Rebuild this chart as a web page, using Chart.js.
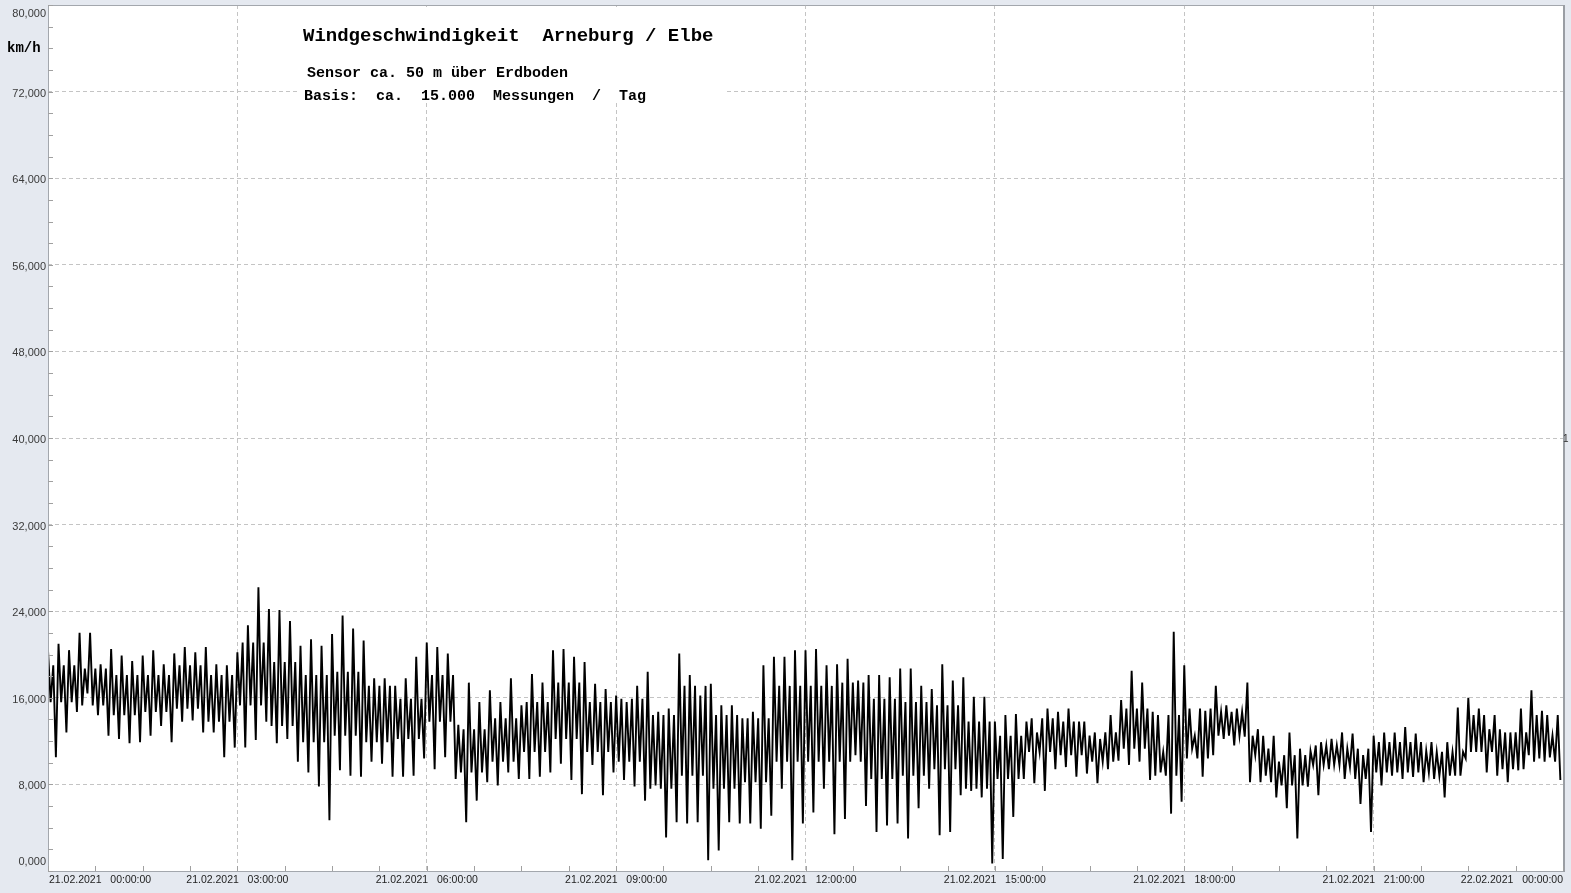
<!DOCTYPE html>
<html><head><meta charset="utf-8">
<script src="https://cdn.jsdelivr.net/npm/chart.js@4.4.1/dist/chart.umd.min.js"></script>
<style>html,body{margin:0;padding:0;background:#e5e9f0;overflow:hidden}</style>
</head><body>
<canvas id="c" width="1571" height="893" style="display:block;width:1571px;height:893px"></canvas>
<script>
// ---- data (km/h), 10-minute bins starting 21.02.2021 00:00, max and min ----
const binMinutes = 10;
const hiKmh = [
 20.4,21.0,20.4,22.0,22.0,19.1,20.5,19.9,19.4,19.9,20.4,19.1,20.1,20.7,20.2,20.7,19.1,19.0,
 20.2,22.7,26.2,24.2,24.1,23.1,20.8,21.4,20.8,21.9,23.6,22.4,21.3,17.8,17.8,17.1,17.8,19.8,
 21.1,20.7,20.1,13.5,17.4,15.6,16.7,15.6,17.8,15.3,18.2,17.4,20.4,20.5,19.8,19.3,17.3,16.8,
 16.2,15.6,17.1,18.4,14.7,15.0,20.1,18.1,16.2,17.3,15.3,15.3,14.1,14.7,19.0,19.8,19.8,20.4,
 20.4,20.5,19.0,19.1,19.6,17.6,18.1,18.1,17.9,18.7,18.7,17.1,16.8,19.1,17.6,17.9,16.1,16.1,
 13.8,14.4,14.5,13.8,12.8,15.0,14.7,15.0,13.8,12.5,12.2,14.4,15.8,18.5,17.4,14.7,11.0,22.1,
 19.0,12.5,14.8,17.1,15.3,15.0,17.4,13.1,11.3,10.1,12.8,11.3,11.1,11.9,12.2,12.8,12.7,10.7,
 12.5,12.8,12.8,13.3,12.7,11.1,11.0,11.9,15.1,16.0,15.0,13.1,13.1,12.8,15.0,16.7,14.8,12.5
];
const loKmh = [
 10.5,12.8,14.7,16.4,14.4,12.5,12.2,11.8,11.9,12.5,13.4,11.9,13.8,13.9,12.8,12.8,10.5,11.4,
 11.4,12.1,13.8,11.8,12.2,10.1, 9.1, 7.8, 4.7, 9.3, 8.8, 8.7,10.1, 9.9, 8.7, 8.7, 8.8,10.4,
  9.4,10.5, 8.5, 4.5, 6.5, 8.2, 7.9, 9.1, 8.5, 8.5, 8.7, 9.1, 9.9, 8.4, 7.1, 9.8, 7.0, 9.1,
  8.4, 7.8, 6.5, 7.9, 3.1, 4.5, 4.4, 4.5, 1.0, 1.9, 4.5, 4.4, 4.4, 3.9, 5.1, 7.6, 1.0, 4.4,
  5.4, 7.6, 3.4, 4.8,10.7, 6.0, 3.6, 4.2, 4.4, 3.0, 5.8, 7.6, 3.3, 3.6, 7.0, 7.4, 6.8, 0.7,
  1.1, 5.0, 8.5, 8.1, 7.4, 9.4, 9.6, 8.7, 9.0, 8.1, 9.4,10.2, 9.8,10.1, 8.4, 9.1, 5.3, 6.4,
 11.3, 8.7,10.7,12.2,11.6,12.4,10.7, 8.8, 6.8, 5.8, 3.0, 7.8, 7.0, 9.4, 9.8, 9.6, 6.2, 3.6,
  7.9, 8.8, 8.5, 8.7, 8.2, 8.5, 6.8, 8.8,10.4,11.0, 9.1, 8.8, 8.2, 9.3,10.7,10.4,10.5, 8.4
];
// dense core of the readings, 30-minute blocks (upper / lower edge)
const coreMinutes = 30;
const coreHiKmh = [
 19.0,18.7,18.1,18.1,19.0,18.1, 21.1,19.3,18.1,18.4,17.1,15.9,
 18.1,13.1,14.1,15.6,17.4,15.6, 15.9,14.4,17.1,14.4,14.1,17.1,
 17.1,17.4,15.9,15.6,15.3,13.8, 12.5,14.1,13.8,12.8,15.0,14.4,
 15.0,14.7,12.5,10.7,11.6,11.3, 11.9,11.9,11.0,14.4,12.8,14.4
];
const coreLoKmh = [
 15.6,15.3,14.4,14.7,15.0,13.8, 15.3,13.4,11.9,12.5,11.9,12.2,
 13.8, 9.1,10.1,11.0,12.2,11.0, 10.1, 7.6, 8.8, 7.6, 8.2,10.1,
 10.1,10.1, 8.5, 8.8, 9.4, 7.6,  8.5,11.0,10.7,10.1,11.3, 8.8,
 10.4,12.5, 8.2, 7.9, 9.8, 8.5,  9.1, 9.1, 8.8,11.0, 9.4,10.1
];
const xTickHours = [0,3,6,9,12,15,18,21,24];
const xTickDates = ['21.02.2021','21.02.2021','21.02.2021','21.02.2021','21.02.2021','21.02.2021','21.02.2021','21.02.2021','22.02.2021'];
const xTickTimes = ['00:00:00','03:00:00','06:00:00','09:00:00','12:00:00','15:00:00','18:00:00','21:00:00','00:00:00'];
const yTickValues = [0,8,16,24,32,40,48,56,64,72,80];
const titleText = 'Windgeschwindigkeit  Arneburg / Elbe';
const subText1 = 'Sensor ca. 50 m über Erdboden';
const subText2 = 'Basis:  ca.  15.000  Messungen  /  Tag';
const unitText = 'km/h';

// each 10-minute bin: max, core low, core high, min (in that order of time)
const points = [];
hiKmh.forEach((h, i) => {
  const c = Math.floor(i * binMinutes / coreMinutes);
  const t = i * binMinutes;
  points.push({x: t, y: h});
  points.push({x: t + 2.5, y: coreLoKmh[c]});
  points.push({x: t + 5, y: coreHiKmh[c]});
  points.push({x: t + 7.5, y: loKmh[i]});
});

const fmtY = v => v.toFixed(3).replace('.', ',');

const decor = {
  id: 'decor',
  beforeDraw(chart) {
    const ctx = chart.ctx, a = chart.chartArea;
    ctx.save();
    ctx.fillStyle = '#e5e9f0';
    ctx.fillRect(0, 0, chart.width, chart.height);
    ctx.fillStyle = '#ffffff';
    ctx.fillRect(a.left, a.top, a.right - a.left, a.bottom - a.top);
    ctx.restore();
  },
  beforeDatasetsDraw(chart) {
    const ctx = chart.ctx;
    ctx.save();
    ctx.fillStyle = '#ffffff';
    ctx.fillRect(297, 7, 428, 96);
    ctx.restore();
  },
  afterDraw(chart) {
    const ctx = chart.ctx, a = chart.chartArea;
    const xs = chart.scales.x, ys = chart.scales.y;
    ctx.save();
    ctx.strokeStyle = '#a3a7ad';
    ctx.lineWidth = 1;
    ctx.beginPath();
    ctx.moveTo(a.left + 0.5, a.top); ctx.lineTo(a.left + 0.5, a.bottom + 0.5);
    ctx.lineTo(a.right, a.bottom + 0.5);
    ctx.moveTo(a.left, a.top + 0.5); ctx.lineTo(a.right, a.top + 0.5);
    ctx.stroke();
    ctx.strokeStyle = '#9a9ea4';
    ctx.lineWidth = 2;
    ctx.beginPath(); ctx.moveTo(a.right + 1, a.top); ctx.lineTo(a.right + 1, a.bottom + 1); ctx.stroke();
    ctx.strokeStyle = '#a0a0a0';
    ctx.lineWidth = 1;
    ctx.beginPath();
    for (let v = 0; v <= 80; v += 2) {
      const y = Math.round(ys.getPixelForValue(v)) + 0.5;
      ctx.moveTo(a.left, y); ctx.lineTo(a.left + 5, y);
    }
    for (let m = 0; m <= 1440; m += 45) {
      const x = Math.round(xs.getPixelForValue(m)) + 0.5;
      ctx.moveTo(x, a.bottom); ctx.lineTo(x, a.bottom - 5);
    }
    ctx.stroke();
    ctx.fillStyle = '#3a3a3a';
    ctx.font = '11px "Liberation Sans", Arial, sans-serif';
    ctx.textAlign = 'right';
    ctx.textBaseline = 'middle';
    yTickValues.forEach(v => {
      let y = ys.getPixelForValue(v) + 2;
      if (v === 80) y = 14;
      if (v === 0) y = 862;
      ctx.fillText(fmtY(v), a.left - 2, y);
    });
    ctx.fillStyle = '#222222';
    ctx.font = '10.5px "Liberation Sans", Arial, sans-serif';
    ctx.textBaseline = 'middle';
    xTickHours.forEach((h, i) => {
      const label = xTickDates[i] + '   ' + xTickTimes[i];
      const w = ctx.measureText(label).width;
      const px = xs.getPixelForValue(h * 60);
      let left = px - w / 2;
      if (i === 0) left = a.left + 1;
      if (i === xTickHours.length - 1) left = a.right - w;
      ctx.textAlign = 'left';
      ctx.fillText(label, left, 880);
    });
    ctx.fillStyle = '#000000';
    ctx.textAlign = 'left';
    ctx.textBaseline = 'alphabetic';
    ctx.font = 'bold 19px "Liberation Mono", "Courier New", monospace';
    ctx.fillText(titleText, 303, 41);
    ctx.font = 'bold 15px "Liberation Mono", "Courier New", monospace';
    ctx.fillText(subText1, 307, 77);
    ctx.fillText(subText2, 304, 100);
    ctx.font = 'bold 14px "Liberation Mono", "Courier New", monospace';
    ctx.fillText(unitText, 7, 52);
    ctx.font = '10px "Liberation Sans", Arial, sans-serif';
    ctx.fillStyle = '#333';
    ctx.fillText('1', 1563, 442);
    ctx.restore();
  }
};

new Chart(document.getElementById('c'), {
  type: 'line',
  data: { datasets: [{
    data: points,
    borderColor: '#000000',
    borderWidth: 1.9,
    borderJoinStyle: 'miter',
    pointRadius: 0,
    tension: 0,
    fill: false
  }]},
  options: {
    responsive: false,
    animation: false,
    events: [],
    parsing: false,
    layout: { padding: { top: 5, right: 8, left: 0, bottom: 0 } },
    plugins: { legend: { display: false }, tooltip: { enabled: false }, title: { display: false } },
    scales: {
      x: {
        type: 'linear', min: 0, max: 1440,
        ticks: { display: false, stepSize: 180 },
        grid: {
          drawTicks: false,
          color: c => (c.tick && (c.tick.value === 0 || c.tick.value === 1440)) ? 'rgba(0,0,0,0)' : '#c4c4c4',
          lineWidth: 1
        },
        border: { display: false, dash: [4, 3] },
        afterFit: s => { s.height = 22; }
      },
      y: {
        min: 0, max: 80,
        ticks: { display: false, stepSize: 8 },
        grid: {
          drawTicks: false,
          color: c => (c.tick && (c.tick.value === 0 || c.tick.value === 80)) ? 'rgba(0,0,0,0)' : '#c4c4c4',
          lineWidth: 1
        },
        border: { display: false, dash: [4, 3] },
        afterFit: s => { s.width = 48; }
      }
    }
  },
  plugins: [decor]
});
</script>
</body></html>
